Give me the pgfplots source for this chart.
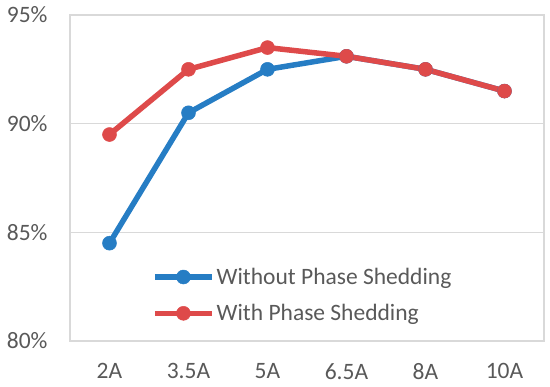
\documentclass[border=0pt]{standalone}
\usepackage{pgfplots}
\pgfplotsset{compat=1.18}
\usepackage{fontspec}
\setmainfont{Carlito}
\definecolor{serblue}{RGB}{38,125,196}
\definecolor{serred}{RGB}{222,74,74}
\definecolor{gridgray}{RGB}{217,217,217}
\definecolor{txtgray}{RGB}{89,89,89}
\begin{document}
\begin{tikzpicture}
\path (-70pt,-46pt) rectangle (480pt,341pt);
\begin{axis}[
  scale only axis,
  width=474pt, height=326pt,
  xmin=-0.5, xmax=5.5,
  ymin=80, ymax=95,
  xtick={0,1,2,3,4,5},
  xticklabels={2A,3.5A,5A,6.5A,8A,10A},
  ytick={80,85,90,95},
  yticklabels={80\%,85\%,90\%,95\%},
  ymajorgrids,
  grid style={gridgray, line width=1.3pt},
  axis line style={gridgray, line width=1.3pt},
  major tick length=0pt,
  tick style={draw=none},
  every tick label/.style={font=\fontsize{23.5}{28}\selectfont, text=txtgray},
  yticklabel style={xshift=-19pt},
  xticklabel style={yshift=-19pt},
  legend style={draw=none, fill=none, at={(axis cs:0.5,80.67)}, anchor=south west,
    font=\fontsize{23.5}{28}\selectfont, text=txtgray, row sep=14.5pt,
    nodes={inner sep=2pt}},
  legend cell align=left,
  legend image code/.code={\draw[mark repeat=2,mark phase=2,#1] plot coordinates {(0pt,0pt) (28.5pt,0pt) (57pt,0pt)};},
]
\addplot[serblue, line width=5.5pt, mark=*, mark size=7pt, mark options={solid, line width=0.5pt}] coordinates {
(0,84.5) (1,90.5) (2,92.5) (3,93.1) (4,92.5) (5,91.5)};
\addlegendentry{Without Phase Shedding}
\addplot[serred, line width=5.5pt, mark=*, mark size=7pt, mark options={solid, line width=0.5pt}] coordinates {
(0,89.5) (1,92.5) (2,93.5) (3,93.1) (4,92.5) (5,91.5)};
\addlegendentry{With Phase Shedding}
\end{axis}
\end{tikzpicture}
\end{document}
